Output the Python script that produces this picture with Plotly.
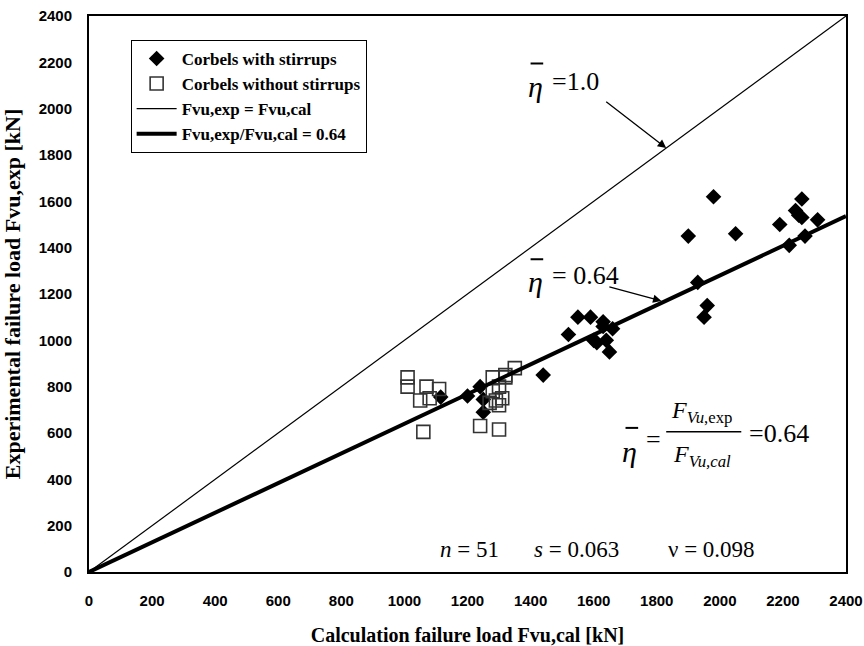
import plotly.graph_objects as go

# Corbels with stirrups (Fvu,cal, Fvu,exp) [kN]
with_x = [1115, 1200, 1240, 1250, 1250, 1440, 1520, 1550, 1590, 1600, 1610, 1630, 1630,
          1640, 1650, 1660, 1900, 1930, 1950, 1960, 1980, 2050, 2190, 2220, 2240, 2250,
          2260, 2260, 2270, 2310]
with_y = [755, 760, 800, 745, 690, 850, 1025, 1100, 1100, 1000, 990, 1060, 1080,
          1000, 950, 1050, 1450, 1250, 1100, 1150, 1620, 1460, 1500, 1410, 1560, 1540,
          1610, 1530, 1450, 1520]

# Corbels without stirrups
wo_x = [1010, 1010, 1050, 1060, 1070, 1080, 1110, 1240, 1270, 1280, 1280, 1290, 1300,
        1300, 1310, 1320, 1350, 1300, 1320]
wo_y = [840, 800, 740, 605, 800, 750, 790, 630, 730, 780, 840, 740, 720,
        615, 750, 850, 880, 800, 840]

line_x = [0, 2400]
ratio = 0.64

fig = go.Figure()
fig.add_trace(go.Scatter(x=with_x, y=with_y, mode="markers", name="Corbels with stirrups",
                         marker=dict(symbol="diamond", size=12, color="black")))
fig.add_trace(go.Scatter(x=wo_x, y=wo_y, mode="markers", name="Corbels without stirrups",
                         marker=dict(symbol="square-open", size=13, color="#333",
                                     line=dict(width=1.6, color="#333"))))
fig.add_trace(go.Scatter(x=line_x, y=line_x, mode="lines", name="Fvu,exp = Fvu,cal",
                         line=dict(color="black", width=1.2)))
fig.add_trace(go.Scatter(x=line_x, y=[v * ratio for v in line_x], mode="lines",
                         name="Fvu,exp/Fvu,cal = 0.64",
                         line=dict(color="black", width=4)))

serif = "Liberation Serif"
BIG = 26
ann = []
shapes = []


def eta(xc, yc, bar_y, half=20):
    ann.append(dict(x=xc, y=yc, xref="x", yref="y", text="<i>η</i>", showarrow=False,
                    font=dict(family=serif, size=30, color="black")))
    shapes.append(dict(type="line", xref="x", yref="y", x0=xc - half + 6, x1=xc + half + 6,
                       y0=bar_y, y1=bar_y, line=dict(color="black", width=2)))


# eta = 1.0
eta(1414, 2095, 2195)
ann.append(dict(x=1462, y=2118, xref="x", yref="y", xanchor="left", text="=1.0",
                showarrow=False, font=dict(family=serif, size=BIG, color="black")))
ann.append(dict(x=1830, y=1830, ax=1635, ay=2035, xref="x", yref="y", axref="x", ayref="y",
                text="", showarrow=True, arrowhead=2, arrowsize=1.3, arrowwidth=1.3,
                arrowcolor="black"))
# eta = 0.64
eta(1414, 1255, 1350)
ann.append(dict(x=1460, y=1278, xref="x", yref="y", xanchor="left", text="= 0.64",
                showarrow=False, font=dict(family=serif, size=BIG, color="black")))
ann.append(dict(x=1815, y=1170, ax=1645, ay=1232, xref="x", yref="y", axref="x", ayref="y",
                text="", showarrow=True, arrowhead=2, arrowsize=1.3, arrowwidth=1.3,
                arrowcolor="black"))
# formula
eta(1715, 522, 622)
ann.append(dict(x=1760, y=570, xref="x", yref="y", xanchor="left", text="=",
                showarrow=False, font=dict(family=serif, size=BIG, color="black")))
ann.append(dict(x=1945, y=690, xref="x", yref="y",
                text="<i>F</i><sub><i>Vu</i>,exp</sub>", showarrow=False,
                font=dict(family=serif, size=24, color="black")))
ann.append(dict(x=1945, y=500, xref="x", yref="y",
                text="<i>F</i><sub><i>Vu,cal</i></sub>", showarrow=False,
                font=dict(family=serif, size=24, color="black")))
ann.append(dict(x=2085, y=600, xref="x", yref="y", xanchor="left", text="=0.64",
                showarrow=False, font=dict(family=serif, size=BIG, color="black")))
shapes.append(dict(type="line", xref="x", yref="y", x0=1830, x1=2068, y0=605, y1=605,
                   line=dict(color="black", width=1.5)))
# stats
ann.append(dict(x=1205, y=95, xref="x", yref="y", text="<i>n</i> = 51", showarrow=False,
                font=dict(family=serif, size=23, color="black")))
ann.append(dict(x=1545, y=95, xref="x", yref="y", text="<i>s</i> = 0.063", showarrow=False,
                font=dict(family=serif, size=23, color="black")))
ann.append(dict(x=1972, y=95, xref="x", yref="y", text="ν = 0.098", showarrow=False,
                font=dict(family=serif, size=23, color="black")))

fig.update_layout(
    width=864, height=646,
    margin=dict(l=89, r=18, t=16, b=74),
    paper_bgcolor="white", plot_bgcolor="white",
    showlegend=True,
    legend=dict(x=0.055, y=0.957, xanchor="left", yanchor="top",
                bordercolor="black", borderwidth=1, bgcolor="white",
                font=dict(family=serif, size=17, color="black", weight="bold"),
                tracegroupgap=0, itemwidth=40),
    annotations=ann, shapes=shapes,
    xaxis=dict(range=[0, 2400], tickvals=list(range(0, 2401, 200)), automargin=False,
               showgrid=False, zeroline=False, showline=True, mirror=True,
               linecolor="black", linewidth=2, ticks="", ticklabelstandoff=14,
               tickfont=dict(family="Liberation Sans", size=15, color="black", weight="bold"),
               title=dict(text="Calculation failure load Fvu,cal [kN]", standoff=20,
                          font=dict(family=serif, size=20, color="black", weight="bold"))),
    yaxis=dict(range=[0, 2400], tickvals=list(range(0, 2401, 200)), automargin=False,
               showgrid=False, zeroline=False, showline=True, mirror=True,
               linecolor="black", linewidth=2, ticks="", ticklabelstandoff=12,
               tickfont=dict(family="Liberation Sans", size=15, color="black", weight="bold"),
               title=dict(text="Experimental failure load Fvu,exp [kN]", standoff=12,
                          font=dict(family=serif, size=22, color="black", weight="bold"))),
)

fig.write_html("out.html")
